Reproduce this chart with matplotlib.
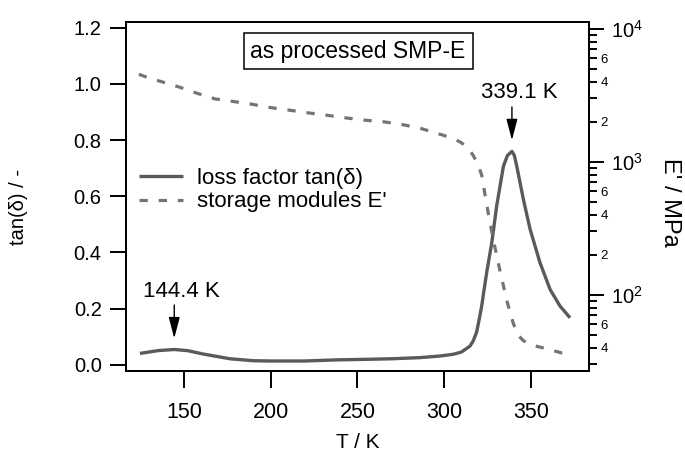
import numpy as np
import matplotlib
matplotlib.use("Agg")
import matplotlib.pyplot as plt
from matplotlib.ticker import LogLocator, FuncFormatter, LogFormatterMathtext

# ─── DATA ────────────────────────────────────────────────────────────────────
T_tan = [124.6, 135.0, 144.4, 152.0, 161.0, 176.5, 190.0, 200.0, 219.0, 238.0,
         255.0, 270.0, 286.0, 298.0, 305.3, 310.0, 314.9, 316.8, 318.7, 320.2,
         321.7, 323.0, 324.6, 327.5, 330.3, 334.2, 336.5, 339.1, 340.5, 341.9,
         345.7, 349.6, 355.3, 361.1, 366.8, 372.6]
tan_delta = [0.040, 0.050, 0.054, 0.050, 0.038, 0.021, 0.014, 0.013, 0.013, 0.017,
             0.019, 0.021, 0.025, 0.031, 0.037, 0.045, 0.066, 0.085, 0.115, 0.160,
             0.210, 0.265, 0.330, 0.435, 0.565, 0.707, 0.745, 0.760, 0.745, 0.707,
             0.589, 0.482, 0.363, 0.268, 0.209, 0.167]

T_E = [124.0, 130.0, 137.1, 147.7, 157.7, 167.9, 178.4, 189.0, 199.6, 210.2,
       220.8, 231.3, 241.9, 253.4, 264.9, 274.6, 286.1, 295.7, 305.3, 310.0,
       314.0, 316.5, 318.8, 320.3, 321.7, 323.5, 325.5, 328.4, 332.2, 336.1,
       339.9, 342.5, 345.7, 350.0, 355.3, 363.0, 369.8]
E_storage = [4550, 4250, 4000, 3630, 3270, 2970, 2840, 2710, 2560, 2450,
             2340, 2250, 2150, 2060, 2000, 1920, 1790, 1640, 1500, 1390,
             1260, 1130, 1000, 895, 790, 575, 408, 258, 152, 91,
             61, 50, 45.3, 42.2, 40.5, 38.1, 36.0]

peak_T = [144.4, 339.1]
peak_labels = ["144.4 K", "339.1 K"]

SOLID = "#5a5a5a"
DASH = "#747474"

plt.rcParams["font.family"] = ["Liberation Sans", "DejaVu Sans"]
plt.rcParams["mathtext.fontset"] = "custom"
plt.rcParams["mathtext.rm"] = "Liberation Sans"

fig = plt.figure(figsize=(6.85, 4.53), dpi=100)
ax = fig.add_axes([0.184, 0.182, 0.676, 0.769])
ax2 = ax.twinx()

l1, = ax.plot(T_tan, tan_delta, color=SOLID, lw=2.4, solid_capstyle="butt",
              label="loss factor tan(δ)", zorder=3)
l2, = ax2.plot(T_E, E_storage, color=DASH, lw=2.3, linestyle=(0, (2.6, 3.4)),
               label="storage modules E'")

ax.set_xlim(116.6, 383.6)
ax.set_ylim(-0.021, 1.22)
ax.set_xticks([150, 200, 250, 300, 350])
ax.set_yticks([0.0, 0.2, 0.4, 0.6, 0.8, 1.0, 1.2])
ax.yaxis.set_major_formatter(FuncFormatter(lambda v, p: f"{v:.1f}"))

ax2.set_yscale("log")
ax2.set_ylim(27, 11200)
ax2.yaxis.set_major_locator(LogLocator(base=10, numticks=10))
ax2.yaxis.set_major_formatter(LogFormatterMathtext())
ax2.yaxis.set_minor_locator(LogLocator(base=10, subs=np.arange(2, 10), numticks=20))


def minor_fmt(v, pos):
    lead = int(round(v / 10 ** np.floor(np.log10(v))))
    return str(lead) if lead in (2, 4, 6) else ""


ax2.yaxis.set_minor_formatter(FuncFormatter(minor_fmt))

for a in (ax, ax2):
    for s in a.spines.values():
        s.set_linewidth(1.4)

ax.tick_params(axis="y", direction="out", length=11.5, width=1.4, pad=6,
               labelsize=14.5, left=True, right=False)
ax.tick_params(axis="x", direction="out", length=12.5, width=1.4, pad=10.5,
               labelsize=15.5, top=False)
ax2.tick_params(axis="y", which="major", direction="out", length=10.5, width=1.4,
                pad=5, labelsize=14.5)
ax2.tick_params(axis="y", which="minor", direction="out", length=6, width=1.4,
                pad=2, labelsize=9.5)

ax.set_xlabel("T / K", fontsize=15)
ax.xaxis.set_label_coords(0.5, -0.178)
ax.set_ylabel("tan(δ) / -", fontsize=14.5)
ax.yaxis.set_label_coords(-0.212, 0.47)
ax2.set_ylabel("E' / MPa", fontsize=17, rotation=-90, va="center")
ax2.yaxis.set_label_coords(1.175, 0.483)

ax.text(0.501, 0.917, "as processed SMP-E", transform=ax.transAxes,
        ha="center", va="center", fontsize=16.5,
        bbox=dict(boxstyle="square,pad=0.3", fc="white", ec="black", lw=1.1))

# peak markers
for T, lab in zip(peak_T, peak_labels):
    v = np.interp(T, T_tan, tan_delta)
    ax.annotate("", xy=(T, v), xytext=(0, 32), textcoords="offset points",
                arrowprops=dict(arrowstyle="-|>,head_length=0.65,head_width=0.17",
                                color="black", lw=1.0, shrinkA=0, shrinkB=8,
                                mutation_scale=20))
    ax.annotate(lab, xy=(T, v), xytext=(5, 42), textcoords="offset points",
                ha="center", va="center", fontsize=16)

leg = ax.legend(handles=[l1, l2], loc="upper left", bbox_to_anchor=(0.018, 0.595),
                frameon=False, fontsize=16, handlelength=2.0, handletextpad=0.6,
                labelspacing=0.12, borderpad=0.2, borderaxespad=0)

fig.savefig("out.png", dpi=100)
